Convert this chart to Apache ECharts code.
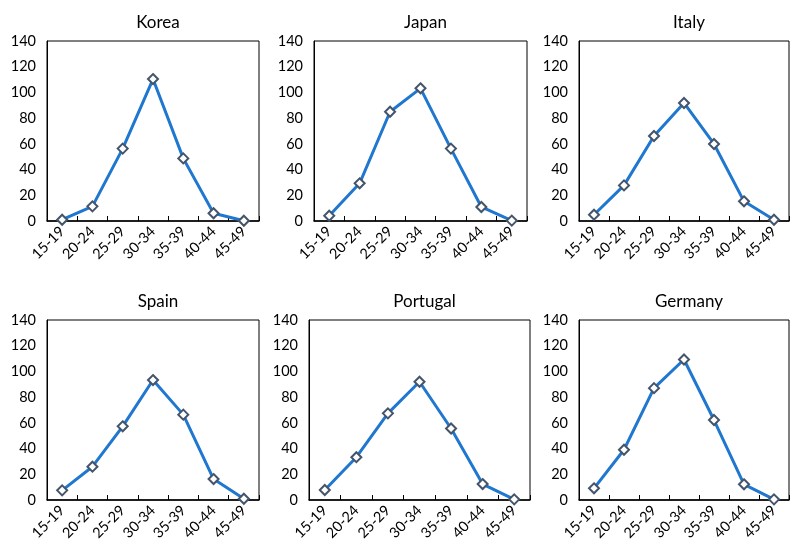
<!DOCTYPE html>
<html><head><meta charset="utf-8">
<script src="https://cdn.jsdelivr.net/npm/echarts@6/dist/echarts.min.js"></script>
<style>html,body{margin:0;padding:0;background:#fff}#c{width:790px;height:539px}</style>
</head><body><div id="c"></div>
<script>
const ageGroups = ['15-19','20-24','25-29','30-34','35-39','40-44','45-49'];
const countries = ['Korea','Japan','Italy','Spain','Portugal','Germany'];
const korea    = [1.0, 11.4, 56.3, 110.4, 48.7, 6.0, 0.2];
const japan    = [4.1, 29.3, 85.0, 103.2, 56.3, 10.9, 0.3];
const italy    = [4.9, 27.7, 66.1, 91.8, 59.9, 15.3, 1.0];
const spain    = [7.5, 25.9, 57.3, 93.3, 66.4, 16.3, 1.0];
const portugal = [7.8, 33.3, 67.4, 92.0, 55.6, 12.4, 0.5];
const germany  = [9.1, 39.1, 87.0, 109.3, 62.2, 12.2, 0.5];
const yTicks = [0, 20, 40, 60, 80, 100, 120, 140];

const seriesData = [korea, japan, italy, spain, portugal, germany];
const grids = [
  {left:47, top:41, width:212, height:180},
  {left:314, top:41, width:213, height:180},
  {left:579, top:41, width:210, height:180},
  {left:47, top:320, width:212, height:180},
  {left:309, top:320, width:221, height:180},
  {left:579, top:320, width:210, height:180}
];
const font = 'Lato, "Open Sans", sans-serif';
const option = {
  animation:false,
  title: grids.map((g,i)=>({
    text: countries[i],
    left: g.left + g.width/2, top: g.top - 32, textAlign:'center',
    textStyle:{fontFamily:font, fontSize:17, fontWeight:'normal', color:'#000'}
  })),
  grid: grids.map(g=>Object.assign({show:true, borderColor:'#000', borderWidth:1, backgroundColor:'transparent', containLabel:false, outerBoundsMode:'none'}, g)),
  xAxis: grids.map((g,i)=>({
    type:'category', gridIndex:i, data:ageGroups, boundaryGap:true,
    axisLine:{lineStyle:{color:'#000', width:1.5}},
    axisTick:{show:true, inside:true, length:5, lineStyle:{color:'#000'}},
    axisLabel:{rotate:45, fontFamily:font, fontSize:14.5, color:'#000', margin:8, interval:0}
  })),
  yAxis: grids.map((g,i)=>({
    type:'value', gridIndex:i, min:yTicks[0], max:yTicks[yTicks.length-1], interval:20,
    axisLine:{show:true, lineStyle:{color:'#000'}},
    axisTick:{show:false}, splitLine:{show:false},
    axisLabel:{fontFamily:font, fontSize:14.5, color:'#000', margin:11}
  })),
  series: seriesData.map((d,i)=>({
    type:'line', xAxisIndex:i, yAxisIndex:i, data:d,
    symbol:'diamond', symbolSize:10,
    lineStyle:{color:'#1F77CF', width:3},
    itemStyle:{color:'#fff', borderColor:'#44546A', borderWidth:2},
    z:3
  }))
};
const chart = echarts.init(document.getElementById('c'));
chart.setOption(option);
</script></body></html>
